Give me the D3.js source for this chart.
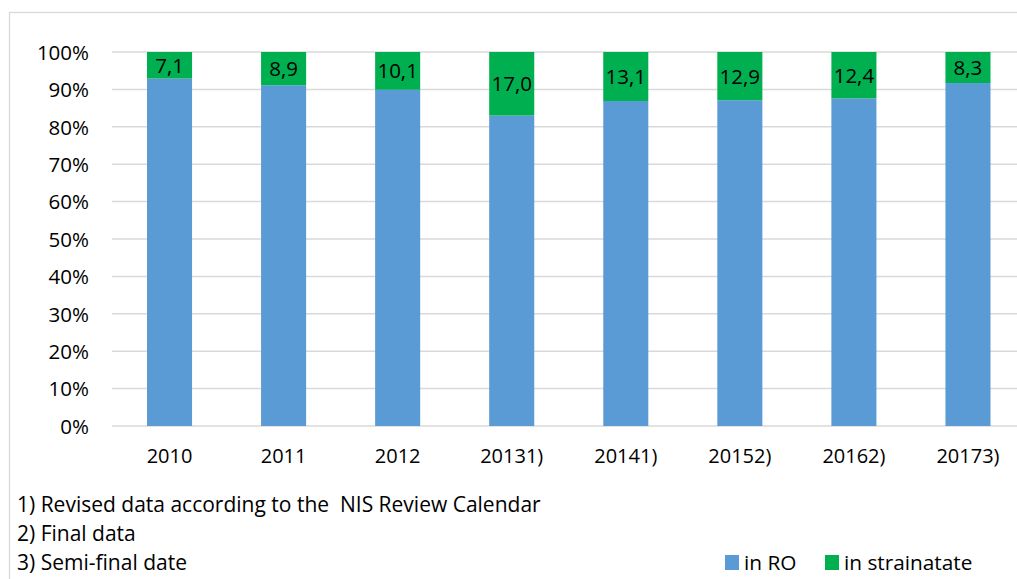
<!DOCTYPE html>
<html><head><meta charset="utf-8">
<script src="https://cdn.jsdelivr.net/npm/d3@7"></script>
<style>body{margin:0;background:#fff}svg{display:block}text{font-family:"Open Sans",sans-serif;fill:#000}</style>
</head><body><svg id="c" width="1017" height="579"></svg>
<script>
const categories = ["2010","2011","2012","20131)","20141)","20152)","20162)","20173)"];
const abroad = [7.1, 8.9, 10.1, 17.0, 13.1, 12.9, 12.4, 8.3];
const inRO = abroad.map(v => +(100 - v).toFixed(1));
const yTicks = [0,10,20,30,40,50,60,70,80,90,100];
const seriesNames = ["in RO","in strainatate"];
const colors = ["#5B9BD5","#00B050"];
const footnotes = ["1) Revised data according to the \u00a0NIS Review Calendar","2) Final data","3) Semi-final date"];

const svg = d3.select("#c");
svg.append("rect").attr("x",9.5).attr("y",12.5).attr("width",1100).attr("height",700)
  .attr("fill","none").attr("stroke","#d9d9d9").attr("stroke-width",1.3);

const x = d3.scaleBand().domain(categories).range([112.5,1025]).paddingInner(0.605).paddingOuter(0.3025);
const y = d3.scaleLinear().domain([0,100]).range([426,52]);

const g = svg.append("g");
g.selectAll("line.grid").data(yTicks).join("line").attr("class","grid")
  .attr("x1",112).attr("x2",1030).attr("y1",d=>y(d)).attr("y2",d=>y(d))
  .attr("stroke","#d9d9d9").attr("stroke-width",1.5);

const yAxis = d3.axisLeft(y).tickValues(yTicks).tickFormat(d=>d+"%").tickSize(0).tickPadding(0);
const ya = svg.append("g").attr("transform","translate(89,0)").call(yAxis);
ya.select(".domain").remove();
ya.selectAll("text").style("font-size","20.5px").style("font-family","Open Sans").attr("dy","0.36em");

const xAxis = d3.axisBottom(x).tickSize(0).tickPadding(0);
const xa = svg.append("g").attr("transform","translate(0,448.5)").call(xAxis);
xa.select(".domain").remove();
xa.selectAll("text").style("font-size","20px").style("font-family","Open Sans").attr("dy","0.71em");

const stacked = d3.stack().keys([0,1]).value((d,k)=>k===0?d.ro:d.ab)(categories.map((c,i)=>({c,ro:inRO[i],ab:abroad[i]})));
stacked.forEach((s,k)=>{
  g.selectAll("rect.s"+k).data(s).join("rect").attr("class","s"+k)
    .attr("x",d=>x(d.data.c)).attr("width",x.bandwidth())
    .attr("y",d=>y(d[1])).attr("height",d=>y(d[0])-y(d[1])).attr("fill",colors[k]);
});
g.selectAll("text.lbl").data(stacked[1]).join("text").attr("class","lbl")
  .attr("x",d=>x(d.data.c)+x.bandwidth()/2).attr("y",d=>(y(d[0])+y(d[1]))/2)
  .attr("text-anchor","middle").attr("dy","0.36em").style("font-size","20.5px")
  .text(d=>d.data.ab.toFixed(1).replace(".",","));

svg.selectAll("text.fn").data(footnotes).join("text").attr("class","fn")
  .attr("x",17).attr("y",(d,i)=>512+i*29).style("font-size","21px").text(d=>d);

const legX = [725,825];
seriesNames.forEach((n,i)=>{
  svg.append("rect").attr("x",legX[i]).attr("y",555).attr("width",14).attr("height",15).attr("fill",colors[i]);
  svg.append("text").attr("x",legX[i]+19).attr("y",570).style("font-size","20.8px").text(n);
});
</script></body></html>
